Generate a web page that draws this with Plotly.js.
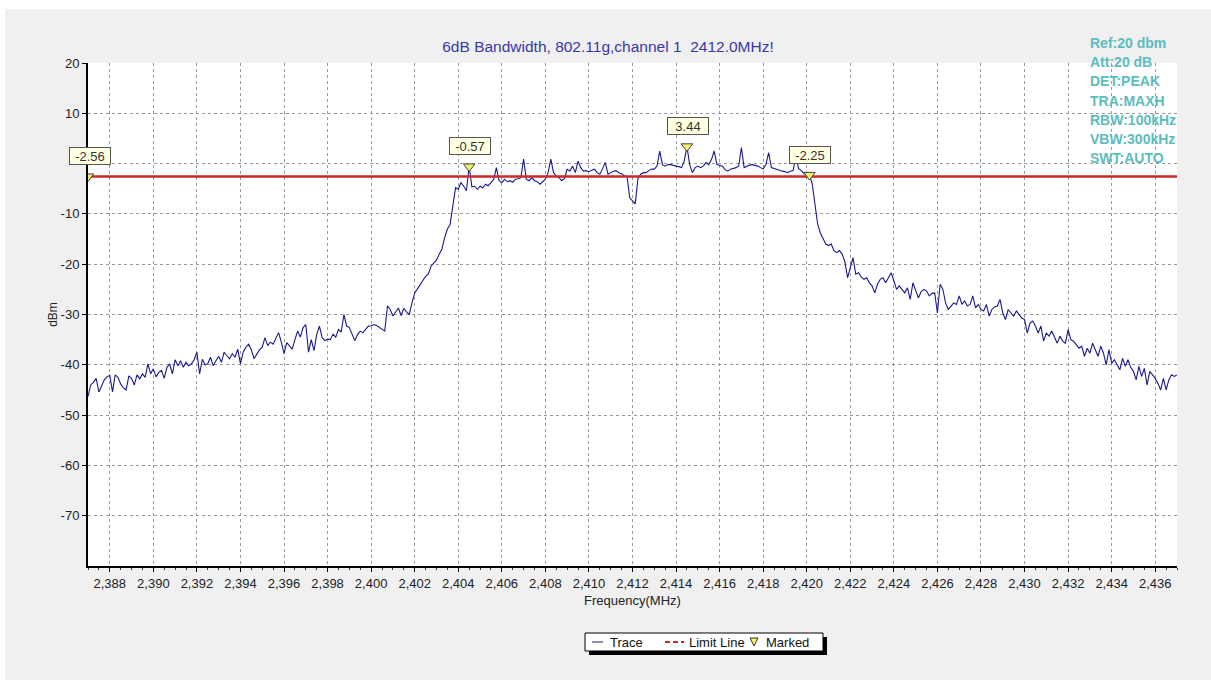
<!DOCTYPE html>
<html><head><meta charset="utf-8">
<script src="https://cdn.plot.ly/plotly-3.0.1.min.js"></script>
<style>
html,body{margin:0;padding:0;background:#ffffff;}
#chart{position:absolute;left:5px;top:9px;width:1206px;height:671px;}
</style></head><body><div id="chart"></div>
<script>
// ---- data ----
const startFreqMHz = 2387;
const stepMHz = 0.125;
const lowerSkirtDbm = [
 -46.3,-44.0,-43.5,-42.7,-45.4,-44.0,-43.0,-42.4,
 -42.1,-45.4,-42.0,-42.5,-43.8,-44.6,-45.0,-42.2,
 -42.7,-44.0,-42.0,-42.8,-41.8,-42.5,-39.8,-41.8,
 -40.8,-42.4,-41.5,-41.1,-42.7,-40.5,-39.8,-41.8,
 -39.0,-40.2,-39.2,-40.5,-39.5,-40.2,-39.8,-39.0,
 -37.5,-41.8,-38.9,-40.0,-39.8,-38.5,-40.2,-39.2,
 -38.3,-39.5,-37.5,-38.2,-38.8,-37.8,-38.5,-36.9,
 -39.8,-37.5,-36.5,-35.9,-37.0,-38.8,-38.0,-37.0,
 -36.5,-34.6,-36.2,-35.5,-35.9,-34.8,-33.6,-35.5,
 -37.8,-35.6,-36.2,-36.9,-35.0,-33.3,-34.5,-32.6,
 -32.0,-37.5,-35.0,-37.2,-34.0,-32.3,-34.6,-35.2,
 -34.9,-35.0,-33.9,-34.5,-33.0,-33.5,-30.0,-32.3,
 -32.6,-34.0,-35.2,-34.0,-33.3,-33.6,-33.0,-32.3,
 -32.3,-32.0,-32.2,-32.6,-33.0,-33.3,-28.3,-29.0,
 -30.3,-29.5,-28.7,-30.2,-28.8,-29.5,-30.0,-27.7,
 -25.7,-24.9,-24.0,-23.2,-22.4,-22.0,-20.4,-19.8,
 -19.2,-18.0,-17.0,-14.7,-13.0,-12.1,-8.4,-4.8
];
const passbandDbm = [
 -5.1,-3.8,-4.5,-5.4,-0.57,-4.6,-4.5,-5.1,
 -4.5,-4.8,-4.1,-4.4,-3.8,-3.2,-0.8,-3.4,
 -3.8,-3.1,-3.6,-3.4,-3.7,-3.1,-3.0,-2.8,
 0.9,-3.1,-3.4,-2.8,-3.4,-3.6,-4.1,-3.5,
 -3.1,-1.8,0.9,-1.8,-2.5,-2.8,-3.4,-3.0,
 -1.1,-1.5,-0.5,-1.8,0.5,-0.8,-1.5,-1.4,
 -1.6,-1.3,-1.1,-1.8,-2.1,-1.0,0.2,-2.1,
 -1.8,-1.5,-1.4,-1.8,-2.0,-2.4,-2.6,-6.8,
 -7.4,-8.0,-3.0,-2.1,-1.8,-1.8,-1.4,-1.1,
 -1.1,-0.5,2.5,-0.2,-0.5,-0.2,-0.2,-0.4,
 -0.5,-0.6,-0.8,0.5,3.44,-0.2,-1.8,-0.8,
 -0.5,-0.8,-0.5,0.2,-0.2,0.8,2.5,-0.2,
 -0.3,-0.5,-1.2,-1.5,-1.1,-1.0,-0.8,-0.5,
 3.2,-0.8,-0.5,-0.3,-0.2,-0.3,-0.5,-0.8,
 -1.1,-0.2,2.2,-0.8,-1.0,-1.1,-1.3,-1.5,
 -1.6,-1.8,-1.5,-1.4,1.5,-1.0,-1.4,-2.0,
 -2.1,-2.25
];
const upperSkirtDbm = [
 -4.0,-8.5,-12.0,-13.8,-15.0,-16.0,
 -16.3,-16.0,-17.3,-17.7,-17.3,-18.0,-19.5,-22.7,
 -20.7,-18.7,-22.0,-21.7,-22.5,-23.0,-22.7,-23.7,
 -24.3,-25.7,-24.0,-23.0,-22.7,-23.7,-22.7,-21.7,
 -23.3,-25.0,-24.3,-25.0,-25.7,-24.7,-27.0,-23.7,
 -25.3,-26.7,-25.5,-25.0,-25.3,-26.3,-25.8,-25.7,
 -29.7,-24.0,-25.0,-27.7,-29.0,-28.3,-27.7,-28.0,
 -26.3,-28.0,-27.3,-28.3,-28.0,-26.3,-28.7,-28.0,
 -29.0,-29.3,-28.0,-30.3,-29.0,-28.5,-28.3,-27.0,
 -29.7,-31.0,-29.0,-29.7,-30.3,-29.3,-30.0,-30.7,
 -31.0,-33.7,-31.7,-31.3,-32.3,-33.7,-32.3,-35.3,
 -33.7,-34.3,-33.3,-34.5,-35.7,-34.3,-35.3,-35.7,
 -33.0,-35.0,-35.3,-36.0,-36.7,-36.3,-38.3,-36.7,
 -37.7,-35.7,-37.0,-38.3,-36.3,-37.7,-40.0,-37.0,
 -39.7,-39.0,-40.0,-41.0,-38.7,-40.3,-39.0,-40.5,
 -41.3,-43.0,-40.3,-42.3,-40.7,-44.0,-41.3,-42.0,
 -42.7,-43.7,-45.0,-42.7,-45.0,-43.0,-42.0,-42.3,
 -42.0
];
const markerFreqMHz = [2387.0, 2404.5, 2414.5, 2420.125];
const markerDbm = [-2.56, -0.57, 3.44, -2.25];
const markerLabels = ['-2.56', '-0.57', '3.44', '-2.25'];
const limitDbm = -2.56;
const freqRangeMHz = [2387, 2437];
const dbmRange = [-80, 20];
const yTickVals = [20, 10, 0, -10, -20, -30, -40, -50, -60, -70];
// the "0" label is hidden behind the -2.56 marker box in the reference
const yTickText = ['20', '10', '', '-10', '-20', '-30', '-40', '-50', '-60', '-70'];
const infoLines = ['Ref:20 dbm', 'Att:20 dB', 'DET:PEAK', 'TRA:MAXH', 'RBW:100kHz', 'VBW:300kHz', 'SWT:AUTO'];
const legendLabels = ['Trace', 'Limit Line', 'Marked'];
const titleText = '6dB Bandwidth, 802.11g,channel 1\u00a0 2412.0MHz!';

// ---- geometry (page pixels) ----
const OX = 5, OY = 9, W = 1206, H = 671;
const L = 88, R = 1177, T = 63, B = 566;
const px = v => (v - L) / (R - L);
const py = v => (B - v) / (B - T);
const FONT = 'Liberation Sans, Arial, sans-serif';

const traceDbm = lowerSkirtDbm.concat(passbandDbm, upperSkirtDbm);

const data = [
  {type: 'scatter', mode: 'lines', name: legendLabels[0], x0: startFreqMHz, dx: stepMHz, y: traceDbm,
   line: {color: '#1a1a8c', width: 1.1}, showlegend: false, hoverinfo: 'x+y'},
  {type: 'scatter', mode: 'lines', name: legendLabels[1], x: freqRangeMHz, y: [limitDbm, limitDbm],
   line: {color: '#cc2a2a', width: 2.5}, showlegend: false},
  {type: 'scatter', mode: 'markers', name: legendLabels[2], x: markerFreqMHz, y: markerDbm,
   marker: {symbol: 'triangle-down', size: 10, color: '#f3ef6c', line: {color: '#444', width: 1}}, showlegend: false}
];

const annotations = [];
markerFreqMHz.forEach((f, i) => {
  annotations.push({x: f, y: markerDbm[i], xref: 'x', yref: 'y', text: markerLabels[i], showarrow: false,
    yshift: 20, xshift: (i === 0 ? 2 : 1), bgcolor: '#ffffe1', bordercolor: '#555', borderwidth: 1, borderpad: 1,
    width: 38, height: 14, font: {family: FONT, size: 13, color: '#333'}});
});
infoLines.forEach((t, i) => {
  annotations.push({x: px(1088), y: py(43 + i * 19.2), xref: 'paper', yref: 'paper', text: t, showarrow: false,
    xanchor: 'left', yanchor: 'middle', font: {family: FONT, size: 14, color: '#5cbdbd', weight: 'bold'}});
});
const legY = 642;
[[608, legendLabels[0]], [687, legendLabels[1]], [764, legendLabels[2]]].forEach(([xl, t]) => {
  annotations.push({x: px(xl), y: py(legY), xref: 'paper', yref: 'paper', text: t, showarrow: false,
    xanchor: 'left', yanchor: 'middle', font: {family: FONT, size: 13, color: '#111'}});
});

const shapes = [
  {type: 'rect', xref: 'paper', yref: 'paper', x0: px(589), x1: px(827), y0: py(637), y1: py(655), fillcolor: '#000', line: {width: 0}},
  {type: 'rect', xref: 'paper', yref: 'paper', x0: px(585), x1: px(823), y0: py(633), y1: py(651), fillcolor: '#fff', line: {color: '#000', width: 1}},
  {type: 'line', xref: 'paper', yref: 'paper', x0: px(592), x1: px(603), y0: py(legY), y1: py(legY), line: {color: '#1a1a8c', width: 1}},
  {type: 'line', xref: 'paper', yref: 'paper', x0: px(665), x1: px(684), y0: py(legY), y1: py(legY), line: {color: '#cc2a2a', width: 2, dash: '5px,3px'}},
  {type: 'path', xref: 'paper', yref: 'paper',
   path: `M ${px(750)},${py(638)} L ${px(758)},${py(638)} L ${px(754)},${py(646)} Z`,
   fillcolor: '#f3ef6c', line: {color: '#333', width: 1}}
];

const axisCommon = {
  showline: true, linecolor: '#000', linewidth: 2, ticks: 'outside', ticklen: 4, tickcolor: '#000',
  showgrid: true, gridcolor: '#9a9a9a', griddash: '3px,3px', gridwidth: 1, zeroline: false,
  tickfont: {family: FONT, size: 13, color: '#222'}
};

const layout = {
  width: W, height: H,
  margin: {l: L - OX, r: W - (R - OX), t: T - OY, b: H - (B - OY), pad: 0},
  paper_bgcolor: '#f0f0f0', plot_bgcolor: '#ffffff',
  showlegend: false,
  title: {text: titleText, font: {family: FONT, size: 15.5, color: '#3838a8'},
          x: 0.5, xref: 'container', xanchor: 'center', y: 1 - (47 - OY) / H, yref: 'container', yanchor: 'middle'},
  xaxis: Object.assign({}, axisCommon, {
    range: freqRangeMHz, tick0: 2388, dtick: 2, tickformat: ',.0f',
    minor: {ticks: 'outside', ticklen: 2, dtick: 0.5, tickcolor: '#333', showgrid: false},
    title: {text: 'Frequency(MHz)', font: {family: FONT, size: 13, color: '#222'}, standoff: 6}
  }),
  yaxis: Object.assign({}, axisCommon, {
    range: dbmRange, tickvals: yTickVals, ticktext: yTickText,
    title: {text: 'dBm', font: {family: FONT, size: 12, color: '#222'}, standoff: 0}
  }),
  annotations: annotations,
  shapes: shapes
};

Plotly.newPlot('chart', data, layout, {displayModeBar: false, staticPlot: true});
</script></body></html>
